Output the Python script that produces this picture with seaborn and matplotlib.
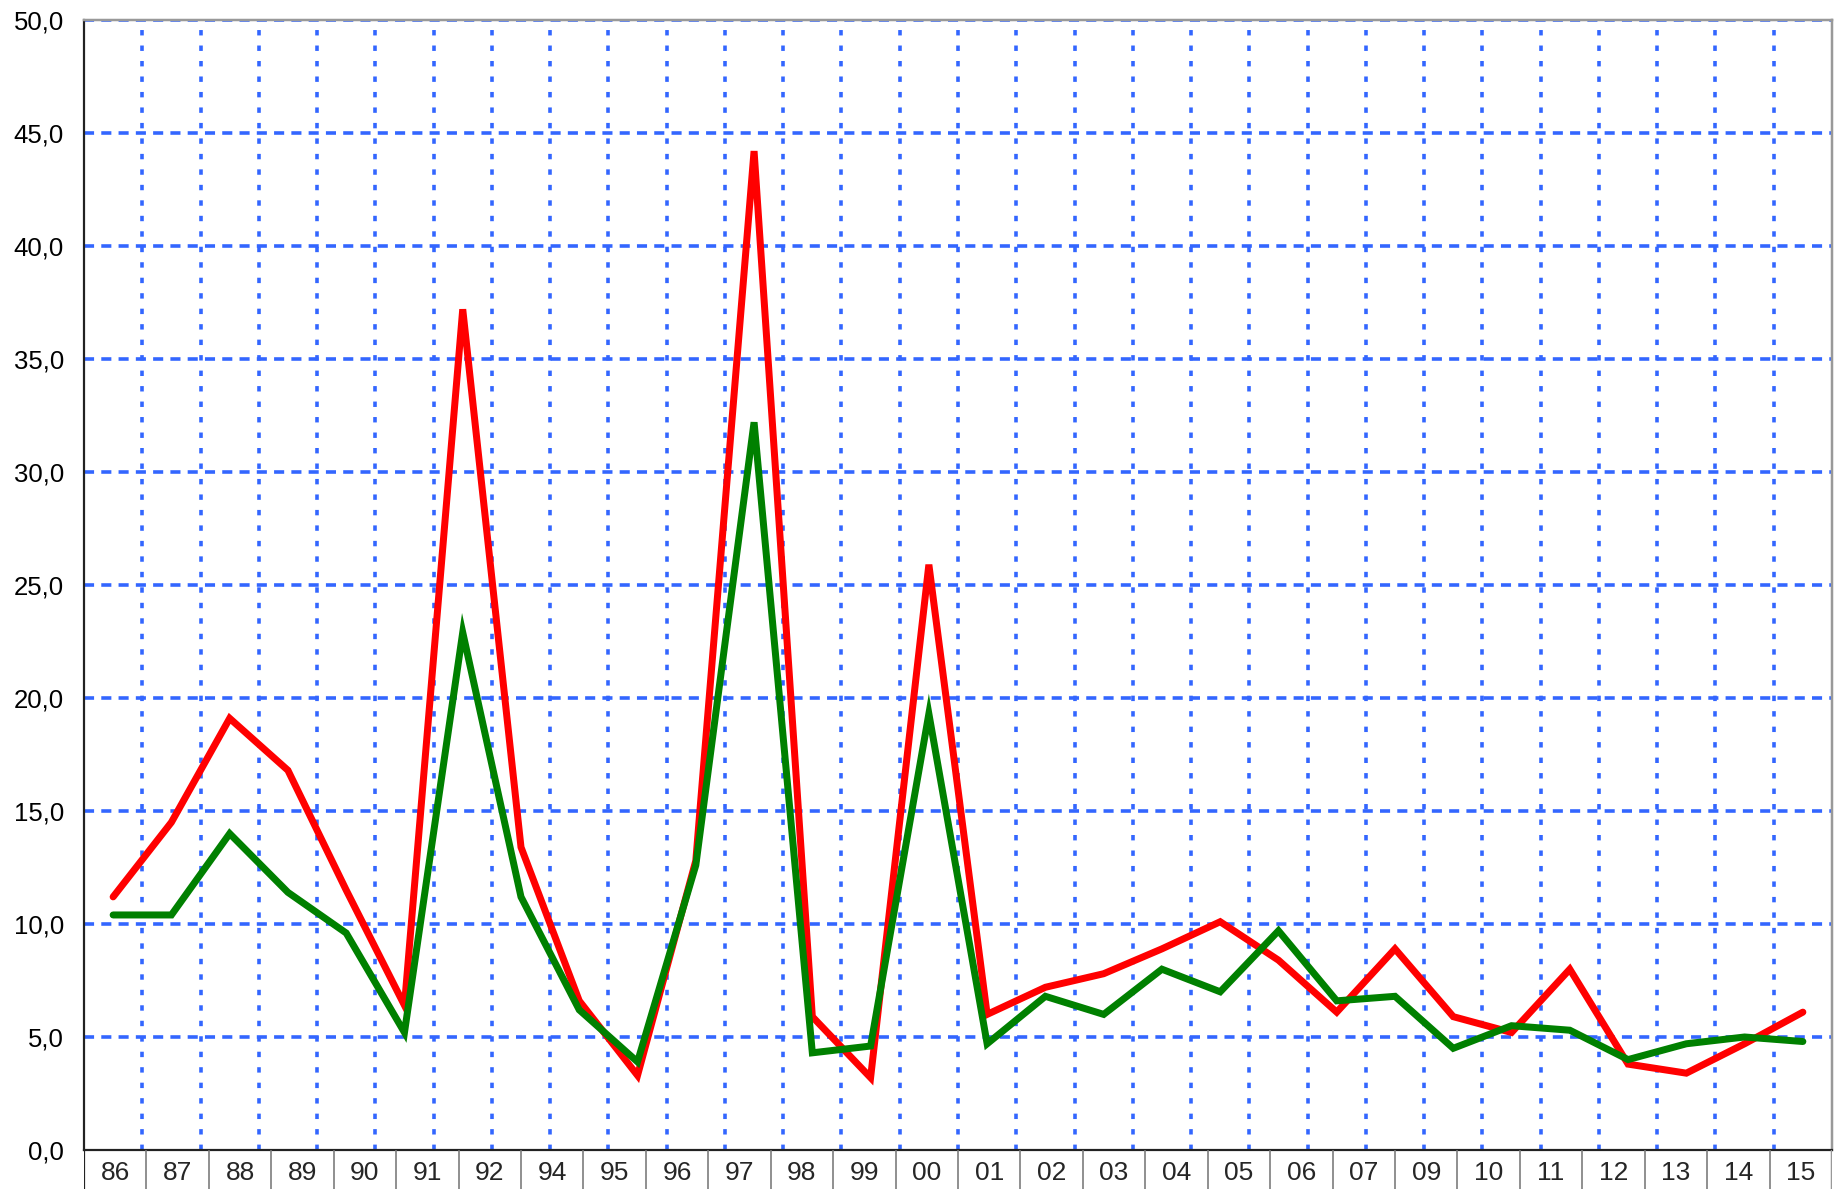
import matplotlib
matplotlib.use("Agg")
import matplotlib.pyplot as plt
import seaborn as sns
import pandas as pd

# years the two series are plotted against
years = [1986, 1987, 1988, 1989, 1990, 1991, 1992, 1993, 1994, 1995,
         1996, 1997, 1998, 1999, 2000, 2001, 2002, 2003, 2004, 2005,
         2006, 2007, 2008, 2009, 2010, 2011, 2012, 2013, 2014, 2015]

red_values = [11.2, 14.5, 19.1, 16.8, 11.5, 6.4, 37.2, 13.4, 6.6, 3.3,
              12.8, 44.2, 5.9, 3.2, 25.9, 6.0, 7.2, 7.8, 8.9, 10.1,
              8.4, 6.1, 8.9, 5.9, 5.2, 8.0, 3.8, 3.4, 4.7, 6.1]

green_values = [10.4, 10.4, 14.0, 11.4, 9.6, 5.2, 22.9, 11.2, 6.2, 3.9,
                12.6, 32.2, 4.3, 4.6, 19.3, 4.7, 6.8, 6.0, 8.0, 7.0,
                9.7, 6.6, 6.8, 4.5, 5.5, 5.3, 4.0, 4.7, 5.0, 4.8]

# labels of the table below the plot (93 and 08 are missing in the original)
table_labels = ["86", "87", "88", "89", "90", "91", "92", "94", "95", "96",
                "97", "98", "99", "00", "01", "02", "03", "04", "05", "06",
                "07", "09", "10", "11", "12", "13", "14", "15"]

yticks = [0, 5, 10, 15, 20, 25, 30, 35, 40, 45, 50]

sns.set_style("white")
plt.rcParams['font.family'] = ['Liberation Sans', 'DejaVu Sans']

df = pd.DataFrame({
    "year": years * 2,
    "value": red_values + green_values,
    "series": ["red"] * len(years) + ["green"] * len(years),
})

W, H = 1835, 1189
fig = plt.figure(figsize=(W / 100, H / 100), dpi=100)
left, right, top, bottom = 84, 1832, 20, 1150
ax = fig.add_axes([left / W, (H - bottom) / H, (right - left) / W, (bottom - top) / H])
tab = fig.add_axes([left / W, 0, (right - left) / W, (H - bottom) / H])

blue = "#3366FF"
px = 72 / 100  # points per pixel

# grid first so lines sit on top
for v in yticks[1:]:
    ax.axhline(v, color=blue, lw=3.6 * px, linestyle=(0, (2.8, 2.0)), zorder=0)
for y in years[:-1]:
    ax.axvline(y + 0.5, color=blue, lw=3.6 * px, linestyle=(0, (1.5, 2.8)), zorder=0)

sns.lineplot(data=df, x="year", y="value", hue="series",
             palette={"red": "#FF0000", "green": "#008000"},
             linewidth=7 * px, legend=False, ax=ax, sort=False,
             solid_capstyle="round", solid_joinstyle="miter")
ax.lines[-1].set_zorder(3)
ax.lines[-2].set_zorder(3)

ax.set_xlim(years[0] - 0.5, years[-1] + 0.5)
ax.set_ylim(0, 50)
ax.set_yticks(yticks)
ax.set_yticklabels([f"{v:.1f}".replace(".", ",") for v in yticks], fontsize=18.5)
ax.set_xticks([])
ax.set_xlabel("")
ax.set_ylabel("")
ax.tick_params(axis="y", length=9 * px, width=1.5 * px, color="#808080", pad=11 * px,
               labelcolor="black")

for side in ["left", "bottom"]:
    ax.spines[side].set_color("#222222")
    ax.spines[side].set_linewidth(2.2 * px)
for side in ["top", "right"]:
    ax.spines[side].set_color("#999999")
    ax.spines[side].set_linewidth(2.5 * px)
for s in ax.spines.values():
    s.set_zorder(4)

# label table below the axis
n = len(table_labels)
tab.set_xlim(0, n)
tab.set_ylim(0, 1)
tab.axis("off")
for i in range(1, n):
    tab.axvline(i, color="#777777", lw=1.6 * px)
tab.axvline(0, color="#222222", lw=2.2 * px)
tab.axvline(n, color="#999999", lw=2.5 * px)
for i, lab in enumerate(table_labels):
    tab.text(i + 0.5, 0.40, lab, ha="center", va="center", fontsize=19)

fig.savefig("out.png", dpi=100)
